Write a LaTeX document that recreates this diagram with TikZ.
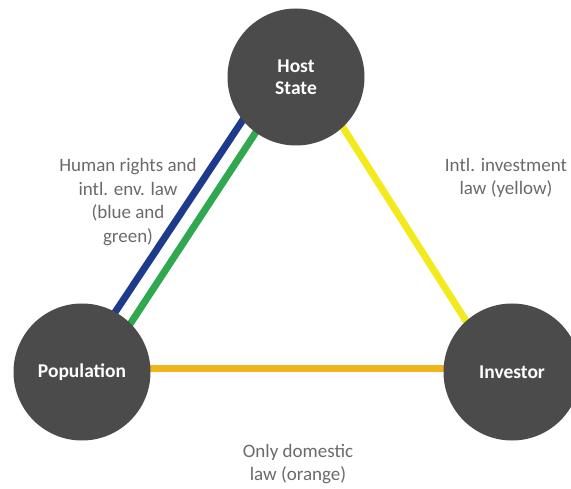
\documentclass[tikz,border=0pt]{standalone}
\usepackage{fontspec}
\setmainfont{Carlito}
\usetikzlibrary{backgrounds}
\definecolor{discgray}{HTML}{4B4B4B}
\definecolor{notegray}{HTML}{6A6A6A}
\definecolor{lawblue}{HTML}{1E3A8C}
\definecolor{lawgreen}{HTML}{2FA84F}
\definecolor{lawyellow}{HTML}{F2EA1C}
\definecolor{laworange}{HTML}{F0B51A}
\begin{document}
\begin{tikzpicture}[x=1pt, y=-1pt,
  party/.style={circle, fill=discgray, text=white, minimum size=137pt, inner sep=0pt, outer sep=0pt, align=center, font=\fontsize{19.5}{22}\selectfont\bfseries},
  law/.style={line width=7pt, shorten <=-6pt, shorten >=-6pt},
  note/.style={text=notegray, align=center, font=\fontsize{19}{23.5}\selectfont}]
\useasboundingbox (0,0) rectangle (571,489);

\node[party] (host) at (296, 77) {Host\\State};
\node[party] (pop) at (82, 372) {Population};
\node[party] (inv) at (512, 372) {Investor};

\node[note] (hr) at (128, 202) {Human rights and\\intl. env. law\\(blue and\\green)};
\node[note] (iil) at (506, 178) {Intl. investment\\law (yellow)};
\node[note] (dom) at (298, 464) {Only domestic\\law (orange)};

\begin{scope}[on background layer]
\draw[law, lawblue] (host.219) to (pop.61);
\draw[law, lawgreen] (host.234) to (pop.45);
\draw[law, lawyellow] (host.-47) to (inv.132);
\draw[law, laworange] (pop.3) to (inv.177);
\end{scope}
\end{tikzpicture}
\end{document}
